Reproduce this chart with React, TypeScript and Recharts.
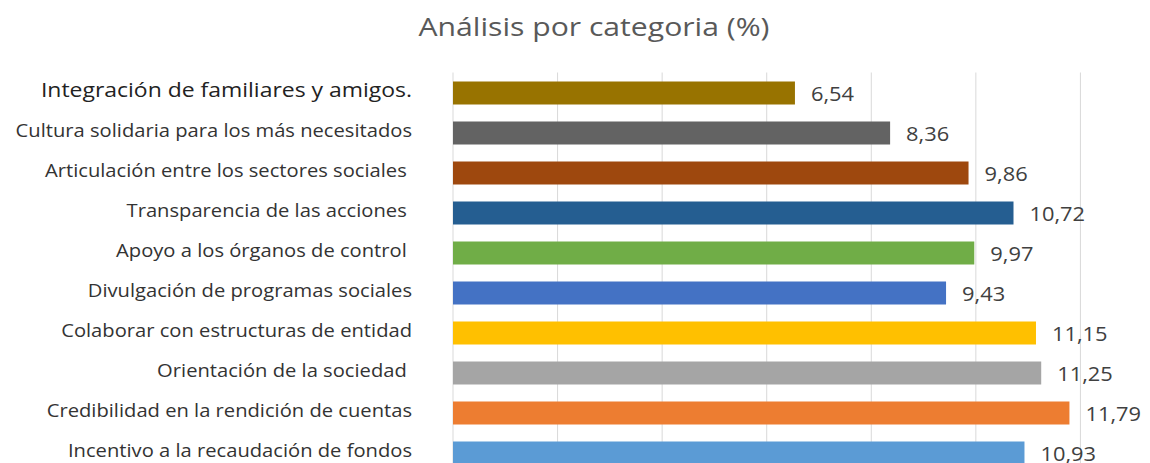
import { BarChart, Bar, XAxis, YAxis, CartesianGrid, Cell, LabelList } from "recharts";

const categories = [
  "Integración de familiares y amigos.",
  "Cultura solidaria para los más necesitados",
  "Articulación entre los sectores sociales ",
  "Transparencia de las acciones ",
  "Apoyo a los órganos de control ",
  "Divulgación de programas sociales",
  "Colaborar con estructuras de entidad",
  "Orientación de la sociedad ",
  "Credibilidad en la rendición de cuentas",
  "Incentivo a la recaudación de fondos",
];
const values = [6.54, 8.36, 9.86, 10.72, 9.97, 9.43, 11.15, 11.25, 11.79, 10.93];
const colors = [
  "#987300", "#636363", "#9e480e", "#255e91", "#70ad47",
  "#4472c4", "#ffc000", "#a5a5a5", "#ed7d31", "#5b9bd5",
];
const xTicks = [0, 2, 4, 6, 8, 10, 12, 14];

const data = categories.map((name, i) => ({ name, value: values[i] }));

// the source image is a little stretched sideways, so text is widened to match
const STRETCH = 1.12;
const FONT = "'Open Sans', sans-serif";

function CategoryTick(props: any) {
  const { x, y, payload, index } = props;
  const first = index === 0;
  return (
    <g transform={`translate(${x},${y + (first ? -4 : -2)})`}>
      <text
        transform={`scale(${STRETCH},1)`}
        textAnchor="end"
        dominantBaseline="central"
        fontFamily={FONT}
        fontSize={first ? 20.5 : 18}
        fill={first ? "#222" : "#333"}
        style={{ whiteSpace: "pre" }}
      >
        {payload.value}
      </text>
    </g>
  );
}

function ValueLabel(props: any) {
  const { x, y, width, height, value } = props;
  const tx = x + width + 16;
  const ty = y + height / 2;
  return (
    <g transform={`translate(${tx},${ty})`}>
      <text
        transform={`scale(${STRETCH},1)`}
        dominantBaseline="central"
        fontFamily={FONT}
        fontSize={19.5}
        fill="#404040"
      >
        {String(value).replace(".", ",")}
      </text>
    </g>
  );
}

export default function App() {
  return (
    <div style={{ position: "relative", width: 1142, height: 455, overflow: "hidden", background: "#fff" }}>
      <svg width={1142} height={60} style={{ position: "absolute", left: 0, top: 0 }}>
        <g transform="translate(586,28)">
          <text
            transform="scale(1.16,1)"
            textAnchor="middle"
            fontFamily={FONT}
            fontSize={26}
            fill="#595959"
          >
            Análisis por categoria (%)
          </text>
        </g>
      </svg>
      <div style={{ position: "absolute", left: 0, top: 0 }}>
        <BarChart
          width={1200}
          height={480}
          data={data}
          layout="vertical"
          margin={{ top: 64.5, right: 23, bottom: 15.5, left: 0 }}
        >
          <CartesianGrid horizontal={false} vertical stroke="#d9d9d9" />
          <XAxis type="number" domain={[0, 14]} ticks={xTicks} hide />
          <YAxis
            type="category"
            dataKey="name"
            width={445}
            axisLine={false}
            tickLine={false}
            tickSize={0}
            tickMargin={41}
            interval={0}
            tick={<CategoryTick />}
          />
          <Bar dataKey="value" barSize={23} isAnimationActive={false}>
            {data.map((d, i) => (
              <Cell key={d.name} fill={colors[i]} />
            ))}
            <LabelList dataKey="value" content={<ValueLabel />} />
          </Bar>
        </BarChart>
      </div>
    </div>
  );
}
